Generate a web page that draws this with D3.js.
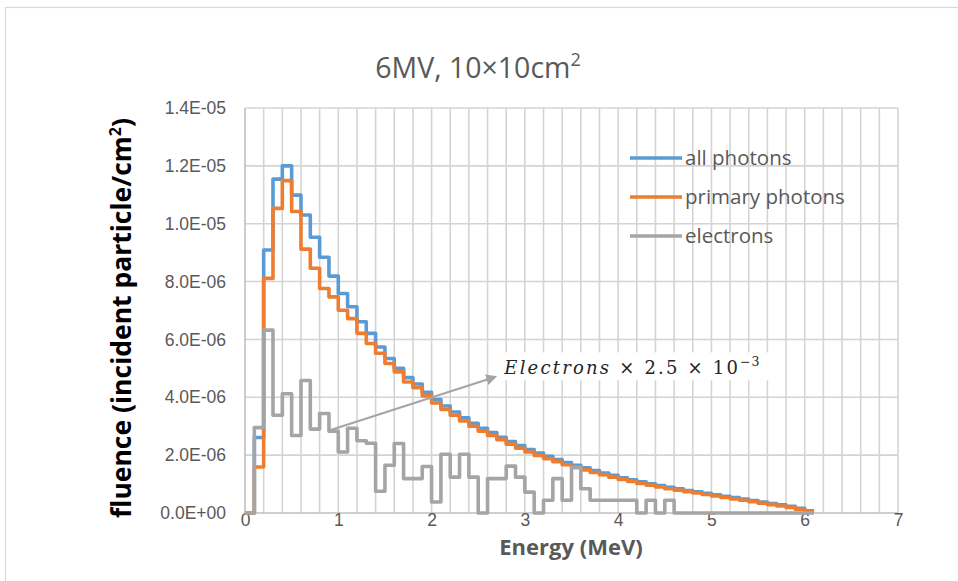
<!DOCTYPE html>
<html>
<head>
<meta charset="utf-8">
<script src="https://cdn.jsdelivr.net/npm/d3@7"></script>
<style>
    body { margin: 0; background: #ffffff; }
    svg { display: block; font-family: "Open Sans", sans-serif; }
    .grid line { stroke: #d4d4d4; stroke-width: 1.6; }
    .axisLine { stroke: #bfbfbf; stroke-width: 1.6; }
    .tickLabel { fill: #595959; font-size: 17.5px; }
    .series { fill: none; stroke-width: 3.6; stroke-linejoin: round; }
</style>
</head>
<body>
<script>
//energy bins (MeV), lower edge of each 0.1 MeV bin, last edge closes the histogram
var binEdges = [0.0, 0.1, 0.2, 0.3, 0.4, 0.5, 0.6, 0.7, 0.8, 0.9,
    1.0, 1.1, 1.2, 1.3, 1.4, 1.5, 1.6, 1.7, 1.8, 1.9,
    2.0, 2.1, 2.2, 2.3, 2.4, 2.5, 2.6, 2.7, 2.8, 2.9,
    3.0, 3.1, 3.2, 3.3, 3.4, 3.5, 3.6, 3.7, 3.8, 3.9,
    4.0, 4.1, 4.2, 4.3, 4.4, 4.5, 4.6, 4.7, 4.8, 4.9,
    5.0, 5.1, 5.2, 5.3, 5.4, 5.5, 5.6, 5.7, 5.8, 5.9,
    6.0, 6.1];

//fluence per bin, in units of 1E-06 particle/cm2
var allPhotons = [0, 2.61, 9.09, 11.54, 12.00, 10.99, 10.30, 9.53, 8.84, 8.19,
    7.59, 7.13, 6.61, 6.21, 5.74, 5.34, 5.00, 4.68, 4.46, 4.17,
    3.92, 3.70, 3.49, 3.29, 3.10, 2.93, 2.78, 2.62, 2.47, 2.33,
    2.19, 2.07, 1.96, 1.85, 1.74, 1.65, 1.56, 1.47, 1.38, 1.30,
    1.22, 1.15, 1.08, 1.01, 0.95, 0.89, 0.84, 0.78, 0.73, 0.68,
    0.63, 0.58, 0.53, 0.48, 0.43, 0.38, 0.33, 0.28, 0.23, 0.16,
    0.08];

var primaryPhotons = [0, 1.59, 8.11, 10.53, 11.49, 10.42, 9.12, 8.46, 7.76, 7.47,
    7.01, 6.72, 6.21, 5.86, 5.52, 5.17, 4.88, 4.53, 4.33, 4.05,
    3.80, 3.58, 3.38, 3.18, 3.00, 2.83, 2.68, 2.53, 2.38, 2.24,
    2.11, 1.99, 1.88, 1.77, 1.67, 1.58, 1.49, 1.40, 1.32, 1.24,
    1.16, 1.09, 1.02, 0.96, 0.90, 0.84, 0.79, 0.74, 0.69, 0.64,
    0.59, 0.54, 0.49, 0.44, 0.39, 0.34, 0.29, 0.24, 0.19, 0.12,
    0.05];

//electrons (already multiplied by 2.5E-03)
var electrons = [0, 2.95, 6.32, 3.38, 4.12, 2.68, 4.58, 2.90, 3.44, 2.83,
    2.11, 2.93, 2.50, 2.41, 0.75, 1.65, 2.40, 1.19, 1.19, 1.61,
    0.38, 2.03, 1.24, 2.03, 1.24, 0, 1.19, 1.19, 1.62, 1.24,
    0.72, 0, 0.44, 1.19, 0.44, 1.57, 0.84, 0.44, 0.44, 0.44,
    0.44, 0.44, 0, 0.44, 0, 0.44, 0, 0, 0, 0,
    0, 0, 0, 0, 0, 0, 0, 0, 0, 0,
    0];

var seriesNames = ["all photons", "primary photons", "electrons"];
var seriesColors = ["#5b9bd5", "#ed7d31", "#a5a5a5"];

var xTicks = [0, 1, 2, 3, 4, 5, 6, 7];
var yTicks = [0, 2, 4, 6, 8, 10, 12, 14];
var yTickLabels = ["0.0E+00", "2.0E-06", "4.0E-06", "6.0E-06", "8.0E-06", "1.0E-05", "1.2E-05", "1.4E-05"];

//begin script when window loads
window.onload = setChart();

function setChart(){
    var width = 958,
        height = 581;

    //plot area in pixels
    var left = 245, right = 898, top = 108, bottom = 513;

    var svg = d3.select("body")
        .append("svg")
        .attr("width", width)
        .attr("height", height);

    //chart frame
    svg.append("rect")
        .attr("x", 5.5)
        .attr("y", 7.5)
        .attr("width", width)
        .attr("height", height)
        .attr("fill", "#ffffff")
        .attr("stroke", "#d9d9d9")
        .attr("stroke-width", 1.2);

    var x = d3.scaleLinear().domain([0, 7]).range([left, right]);
    var y = d3.scaleLinear().domain([0, 14]).range([bottom, top]);

    //vertical gridlines every 0.2 MeV
    var xGrid = d3.range(1, 36).map(function(i){ return i * 0.2; });
    svg.append("g")
        .attr("class", "grid")
        .selectAll("line")
        .data(xGrid)
        .enter()
        .append("line")
        .attr("x1", function(d){ return x(d); })
        .attr("x2", function(d){ return x(d); })
        .attr("y1", y(14))
        .attr("y2", y(0));

    //horizontal gridlines
    svg.append("g")
        .attr("class", "grid")
        .selectAll("line")
        .data(yTicks.slice(1))
        .enter()
        .append("line")
        .attr("x1", x(0))
        .attr("x2", x(7))
        .attr("y1", function(d){ return y(d); })
        .attr("y2", function(d){ return y(d); });

    //axis lines
    svg.append("line").attr("class", "axisLine")
        .attr("x1", x(0)).attr("x2", x(0)).attr("y1", y(14)).attr("y2", y(0));
    svg.append("line").attr("class", "axisLine")
        .attr("x1", x(0)).attr("x2", x(7)).attr("y1", y(0)).attr("y2", y(0));

    //tick labels through d3 axes, with their own lines hidden
    var yAxis = d3.axisLeft(y)
        .tickValues(yTicks)
        .tickSize(0)
        .tickPadding(19)
        .tickFormat(function(d, i){ return yTickLabels[i]; });
    var gy = svg.append("g")
        .attr("transform", "translate(" + left + ",0)")
        .call(yAxis);
    gy.select(".domain").remove();
    gy.selectAll("text").attr("class", "tickLabel").attr("font-family", null).attr("font-size", null).attr("fill", null);

    var xAxis = d3.axisBottom(x)
        .tickValues(xTicks)
        .tickSize(0)
        .tickPadding(1)
        .tickFormat(d3.format("d"));
    var gx = svg.append("g")
        .attr("transform", "translate(0," + bottom + ")")
        .call(xAxis);
    gx.select(".domain").remove();
    gx.selectAll("text").attr("class", "tickLabel").attr("font-family", null).attr("font-size", null).attr("fill", null);

    //step lines
    var line = d3.line()
        .x(function(d){ return x(d[0]); })
        .y(function(d){ return y(d[1]); })
        .curve(d3.curveStepAfter);

    function toPoints(values){
        var pts = values.map(function(v, i){ return [binEdges[i], v]; });
        pts.push([binEdges[values.length], values[values.length - 1]]);
        return pts;
    }

    var allSeries = [allPhotons, primaryPhotons, electrons];
    svg.selectAll(".series")
        .data(allSeries)
        .enter()
        .append("path")
        .attr("class", "series")
        .attr("stroke", function(d, i){ return seriesColors[i]; })
        .attr("d", function(d){ return line(toPoints(d)); });

    //annotation: arrow and label
    var defs = svg.append("defs");
    defs.append("marker")
        .attr("id", "arrowHead")
        .attr("viewBox", "0 0 10 10")
        .attr("refX", 8)
        .attr("refY", 5)
        .attr("markerWidth", 5)
        .attr("markerHeight", 5)
        .attr("orient", "auto")
        .append("path")
        .attr("d", "M0,0L10,5L0,10Z")
        .attr("fill", "#a5a5a5");

    svg.append("line")
        .attr("x1", x(0.91))
        .attr("y1", y(2.86))
        .attr("x2", x(2.68))
        .attr("y2", y(4.70))
        .attr("stroke", "#a5a5a5")
        .attr("stroke-width", 2.2)
        .attr("marker-end", "url(#arrowHead)");

    svg.append("rect")
        .attr("x", x(2.72))
        .attr("y", y(5.55))
        .attr("width", 280)
        .attr("height", 28)
        .attr("fill", "#ffffff");

    var note = svg.append("text")
        .attr("x", x(2.78))
        .attr("y", y(4.82))
        .attr("fill", "#262626")
        .style("font-family", "'DejaVu Serif', serif")
        .style("font-size", "18px")
        .style("letter-spacing", "2.2px");
    note.append("tspan")
        .style("font-style", "italic")
        .text("Electrons");
    note.append("tspan").text("  \u00d7 2.5 \u00d7 10");
    note.append("tspan")
        .attr("dy", -8)
        .style("font-size", "12.5px")
        .style("letter-spacing", "1px")
        .text("\u22123");

    //legend
    var legend = svg.append("g")
        .selectAll("g")
        .data(seriesNames)
        .enter()
        .append("g")
        .attr("transform", function(d, i){ return "translate(630," + (158 + i * 39) + ")"; });
    legend.append("line")
        .attr("x1", 0).attr("x2", 52)
        .attr("stroke", function(d, i){ return seriesColors[i]; })
        .attr("stroke-width", 3.6);
    legend.append("text")
        .attr("x", 55)
        .attr("y", 7)
        .attr("fill", "#595959")
        .style("font-size", "20.5px")
        .text(function(d){ return d; });

    //title
    var title = svg.append("text")
        .attr("x", 478)
        .attr("y", 78)
        .attr("text-anchor", "middle")
        .attr("fill", "#595959")
        .style("font-size", "28.5px")
        .text("6MV, 10\u00d710cm");
    title.append("tspan")
        .attr("dy", -12)
        .style("font-size", "18px")
        .text("2");

    //axis titles
    svg.append("text")
        .attr("x", 571)
        .attr("y", 555)
        .attr("text-anchor", "middle")
        .attr("fill", "#595959")
        .style("font-size", "22px")
        .style("font-weight", "bold")
        .text("Energy (MeV)");

    var yTitle = svg.append("text")
        .attr("transform", "translate(131,318) rotate(-90)")
        .attr("text-anchor", "middle")
        .attr("fill", "#000000")
        .style("font-size", "26.5px")
        .style("font-weight", "bold")
        .text("fluence (incident particle/cm");
    yTitle.append("tspan")
        .attr("dy", -10)
        .style("font-size", "16px")
        .text("2");
    yTitle.append("tspan")
        .attr("dy", 10)
        .text(")");
};
</script>
</body>
</html>
